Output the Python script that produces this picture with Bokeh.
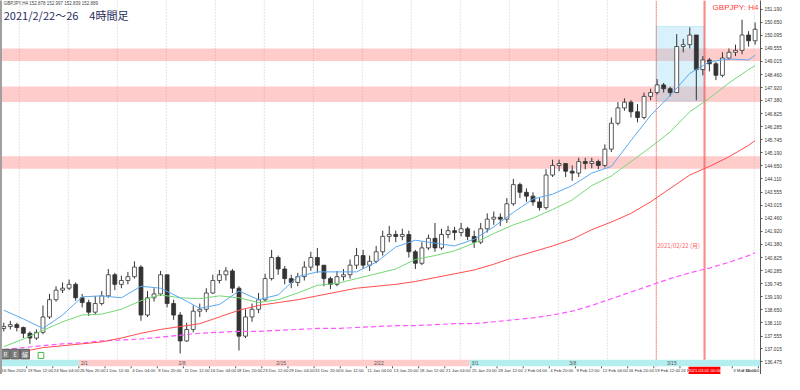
import numpy as np
from bokeh.plotting import figure
from bokeh.models import (Range1d, LinearAxis, FixedTicker, Label, Span,
                          BoxAnnotation, ColumnDataSource, PrintfTickFormatter)
from bokeh.core.properties import value
from bokeh.embed import file_html
from bokeh.resources import INLINE

# ---------------- data ----------------
symbol_line = "GBPJPY,H4  152.878 152.997 152.839 152.889"
title_text = "2021/2/22～26　4時間足"
tag_text = "GBPJPY: H4"
event_text = "2021/02/22 (月)"
cursor_time_text = "2021.03.01 00:00"

# each drawn candle summarises 4 consecutive H4 bars
first_open = 137.87
close = [137.95, 138.03, 137.91, 137.67, 137.47, 137.71, 138.35, 139.07, 139.47, 139.55,
         139.71, 139.15, 138.95, 138.55, 138.91, 139.23, 140.11, 139.71, 139.87, 140.03,
         140.43, 138.43, 139.15, 139.31, 140.11, 138.91, 138.43, 137.35, 137.83, 138.59,
         138.67, 139.35, 139.87, 140.11, 140.27, 139.55, 137.55, 138.35, 138.67, 139.07,
         139.95, 140.83, 140.35, 139.95, 139.79, 140.03, 140.43, 140.83, 140.51, 139.95,
         139.71, 140.03, 140.11, 140.51, 140.91, 140.51, 140.67, 141.07, 141.71, 141.79,
         141.71, 141.79, 141.07, 140.59, 141.23, 141.63, 141.23, 141.79, 141.95, 141.87,
         142.03, 141.71, 141.47, 142.03, 142.43, 142.51, 142.43, 143.07, 143.87, 143.55,
         143.39, 143.15, 142.91, 144.27, 144.67, 144.75, 144.43, 144.35, 144.83, 144.75,
         144.83, 144.67, 145.35, 146.43, 147.07, 147.31, 146.91, 146.67, 147.55, 147.71,
         148.03, 147.87, 147.71, 149.63, 149.71, 150.11, 148.67, 149.07, 148.91, 148.43,
         149.15, 149.39, 149.47, 150.11, 149.87, 150.35]
high = [138.11, 138.19, 138.11, 137.95, 137.75, 137.83, 138.83, 139.31, 139.63, 139.79,
        139.91, 139.79, 139.31, 139.07, 139.23, 139.43, 140.35, 140.19, 140.07, 140.23,
        140.67, 140.51, 139.43, 139.55, 140.27, 140.11, 139.07, 138.55, 138.11, 138.83,
        138.91, 139.55, 140.11, 140.31, 140.43, 140.35, 139.63, 138.67, 138.91, 139.35,
        140.15, 141.15, 140.91, 140.47, 140.11, 140.19, 140.67, 141.07, 141.23, 140.51,
        140.03, 140.27, 140.35, 140.75, 141.23, 141.15, 140.91, 141.31, 141.95, 142.15,
        141.95, 142.03, 141.95, 141.15, 141.47, 141.79, 142.27, 142.03, 142.15, 142.11,
        142.27, 142.11, 141.95, 142.27, 142.67, 142.75, 142.67, 143.31, 144.11, 143.95,
        143.71, 143.55, 143.31, 144.51, 144.91, 144.91, 144.75, 144.67, 144.99, 144.99,
        144.99, 144.91, 145.55, 146.67, 147.31, 147.47, 147.39, 147.23, 147.71, 147.87,
        148.27, 148.11, 147.95, 150.15, 149.95, 150.43, 150.11, 149.23, 149.15, 148.99,
        149.39, 149.55, 149.71, 150.75, 150.27, 150.63]
low = [137.75, 137.83, 137.75, 137.47, 137.23, 137.39, 137.63, 138.27, 138.99, 139.35,
       139.47, 139.03, 138.75, 138.39, 138.43, 138.83, 139.15, 139.47, 139.55, 139.71,
       139.95, 138.19, 138.35, 138.99, 139.23, 138.75, 138.23, 136.83, 137.31, 137.71,
       138.35, 138.55, 139.31, 139.75, 139.87, 139.35, 136.95, 137.47, 138.15, 138.51,
       138.99, 139.87, 140.11, 139.71, 139.55, 139.63, 139.87, 140.27, 140.19, 139.63,
       139.51, 139.63, 139.87, 139.95, 140.35, 140.35, 140.27, 140.59, 140.91, 141.47,
       141.47, 141.55, 140.83, 140.35, 140.51, 141.15, 141.07, 141.15, 141.63, 141.55,
       141.71, 141.55, 141.23, 141.39, 141.87, 142.19, 142.15, 142.27, 142.99, 143.31,
       143.15, 142.99, 142.79, 142.83, 144.19, 144.43, 144.19, 144.03, 144.19, 144.51,
       144.55, 144.51, 144.59, 145.23, 146.35, 146.95, 146.67, 146.47, 146.59, 147.39,
       147.63, 147.71, 147.55, 147.71, 149.39, 149.55, 147.39, 148.43, 148.59, 148.23,
       148.35, 149.07, 149.23, 149.31, 149.63, 149.71]

# moving averages, sampled at these candle numbers
ma_candle = [0, 3, 6, 9, 12, 15, 18, 21, 24, 27, 30, 33, 36, 39, 42, 45, 48, 51, 54, 57,
             60, 63, 66, 69, 72, 75, 78, 81, 84, 87, 90, 93, 96, 99, 102, 105, 108, 111, 114, 115]
ma_fast = [138.63, 138.27, 137.87, 138.43, 139.19, 139.23, 139.15, 139.63, 139.55, 139.15,
           138.71, 138.87, 139.43, 139.07, 139.27, 140.03, 140.23, 140.23, 140.23, 140.63,
           141.27, 141.55, 141.43, 141.31, 141.59, 142.11, 142.71, 143.27, 143.47, 143.83,
           144.35, 144.63, 145.71, 146.75, 147.59, 148.51, 148.99, 149.11, 149.07, 149.27]
ma_mid = [137.11, 137.43, 137.79, 138.15, 138.43, 138.47, 138.67, 139.03, 139.27, 139.15,
          139.11, 139.23, 139.15, 138.95, 139.07, 139.35, 139.67, 139.75, 139.95, 140.15,
          140.35, 140.75, 140.91, 141.11, 141.43, 141.83, 142.19, 142.47, 142.83, 143.23,
          143.83, 144.23, 144.83, 145.43, 146.07, 146.91, 147.47, 148.11, 148.67, 148.83]
ma_slow = [136.75, 136.91, 137.07, 137.15, 137.23, 137.31, 137.47, 137.67, 137.83, 137.95,
           138.07, 138.35, 138.63, 138.83, 138.95, 139.07, 139.23, 139.39, 139.55, 139.63,
           139.71, 139.83, 139.99, 140.15, 140.31, 140.55, 140.83, 141.07, 141.31, 141.59,
           141.99, 142.31, 142.67, 143.15, 143.71, 144.27, 144.63, 145.03, 145.51, 145.71]
ma_long = [136.99, 137.07, 137.15, 137.23, 137.27, 137.35, 137.39, 137.43, 137.51, 137.59,
           137.67, 137.71, 137.75, 137.75, 137.79, 137.83, 137.87, 137.87, 137.91, 137.95,
           137.99, 137.99, 138.03, 138.07, 138.07, 138.15, 138.23, 138.31, 138.43, 138.59,
           138.83, 139.11, 139.39, 139.67, 139.95, 140.19, 140.39, 140.63, 140.91, 141.03]

zone_low = [149.03, 147.32, 144.53]
zone_high = [149.55, 147.96, 145.05]
box_low, box_high = 147.36, 150.47
event_bars = [401.5, 431]     # H4 bar number: 2021/02/22 00:00, 2021/03/01 00:00

price_ticks = [151.190, 150.650, 150.095, 149.555, 149.015, 148.460, 147.920, 147.380,
               146.825, 146.285, 145.745, 145.190, 144.650, 144.110, 143.555, 143.015,
               142.460, 141.920, 141.380, 140.825, 140.285, 139.745, 139.190, 138.650,
               138.110, 137.555, 137.015, 136.475]
time_labels = ["16 Nov 2020", "19 Nov 12:00", "24 Nov 04:00", "26 Nov 20:00", "1 Dec 12:00",
               "4 Dec 04:00", "8 Dec 20:00", "11 Dec 12:00", "16 Dec 04:00", "18 Dec 20:00",
               "23 Dec 12:00", "29 Dec 04:00", "31 Dec 20:00", "6 Jan 12:00", "11 Jan 04:00",
               "13 Jan 20:00", "18 Jan 12:00", "21 Jan 04:00", "25 Jan 20:00", "28 Jan 12:00",
               "2 Feb 04:00", "4 Feb 20:00", "9 Feb 12:00", "12 Feb 04:00", "16 Feb 20:00",
               "19 Feb 12:00", "24 Feb 04:00", "", "3 Mar 12:00", "8 Mar 04:00"]
week_labels = ["2/1", "2/8", "2/15", "2/22", "3/1", "3/8", "3/15"]
button_labels = ["R", "E", "解"]

# ---------------- layout ----------------
BPC = 4                     # H4 bars per drawn candle
X0, X1 = 0, 465.3
Y0, Y1 = 136.29, 151.55     # chart area (band sits at its bottom)
LAB_H = 0.34                # strip below the chart for time labels
n = len(close)
xc = [BPC * i + BPC / 2 for i in range(n)]
opn = [first_open] + close[:-1]
up = [c >= o for o, c in zip(opn, close)]

p = figure(width=784, height=374, x_range=Range1d(X0, X1),
           y_range=Range1d(Y0 - LAB_H, Y1),
           output_backend="svg", toolbar_location=None,
           x_axis_location=None, y_axis_location=None,
           min_border_left=0, min_border_right=0, min_border_top=0, min_border_bottom=0)
p.outline_line_color = None
p.xgrid.grid_line_color = None
p.ygrid.grid_line_color = None
p.background_fill_color = "white"
p.border_fill_color = "white"

# left gray strip
left_ax = LinearAxis(ticker=FixedTicker(ticks=[]), axis_line_color="#a0a0a0",
                     axis_line_width=3, major_tick_line_color=None,
                     minor_tick_line_color=None, major_label_text_font_size="0px",
                     major_label_standoff=0)
p.add_layout(left_ax, "left")

# right price axis
ya = LinearAxis(ticker=FixedTicker(ticks=price_ticks),
                formatter=PrintfTickFormatter(format="%.3f"),
                major_label_text_font_size="4.8px",
                major_label_text_font="Liberation Sans",
                major_label_text_color="#333333",
                major_tick_out=2, major_tick_in=0,
                minor_tick_line_color=None,
                axis_line_color="#555555", major_tick_line_color="#555555",
                major_label_standoff=2)
p.add_layout(ya, "right")

# weekly dotted grid
for gx in np.arange(event_bars[0] % 30, X1, 30):
    p.add_layout(Span(location=float(gx), dimension="height", line_color="#c8c8c8",
                      line_dash="1 2", line_width=1, level="underlay"))

# white strip for time labels
p.quad(left=[X0], right=[X1], bottom=[Y0 - LAB_H], top=[Y0], fill_color="white",
       line_color=None)

# support / resistance zones
for lo, hi in zip(zone_low, zone_high):
    p.add_layout(BoxAnnotation(bottom=lo, top=hi, fill_color="#ff8080", fill_alpha=0.4,
                               line_color=None, level="underlay"))
# week box
p.add_layout(BoxAnnotation(left=event_bars[0], right=event_bars[1], bottom=box_low, top=box_high,
                           fill_color="#80d0f0", fill_alpha=0.3, line_color="#70bfe0",
                           line_width=1, level="underlay"))

# event lines
p.segment(x0=[event_bars[0]], y0=[Y0], x1=[event_bars[0]], y1=[Y1],
          line_color="#ff5050", line_dash="1 1", line_width=1)
p.segment(x0=[event_bars[1]], y0=[Y0], x1=[event_bars[1]], y1=[Y1],
          line_color="#ff6060", line_alpha=0.75, line_width=2)

# candles
src = ColumnDataSource(dict(x=xc, o=opn, c=close, h=high, l=low,
                            top=[max(a, b) for a, b in zip(opn, close)],
                            bot=[min(a, b) for a, b in zip(opn, close)],
                            fill=["#ffffff" if u else "#333333" for u in up]))
p.segment(x0="x", y0="l", x1="x", y1="h", source=src, line_color="#333333", line_width=1)
p.vbar(x="x", top="top", bottom="bot", width=BPC * 0.6, source=src,
       fill_color="fill", line_color="#333333", line_width=0.8)

# moving averages
max_ = [BPC * c + BPC / 2 for c in ma_candle]
p.line(max_, ma_long, line_color="#ff55ff", line_width=1.2, line_dash="5 3")
p.line(max_, ma_slow, line_color="#ff4d4d", line_width=1)
p.line(max_, ma_mid, line_color="#74d874", line_width=1)
p.line(max_, ma_fast, line_color="#5aa8f0", line_width=1)

# bottom month band with week labels
band_h = 0.28
wk_pos = [48 + 59.8 * k for k in range(len(week_labels))]
edges = [X0, wk_pos[0], wk_pos[4], X1]
p.quad(left=edges[:-1], right=edges[1:], bottom=Y0, top=Y0 + band_h,
       fill_color=["#b4eeee", "#ffcccc", "#b4eeee"], line_color=None)
p.text(x=wk_pos, y=[Y0 + band_h / 2] * len(wk_pos), text=week_labels,
       text_font_size="5px", text_baseline="middle", text_align="left",
       text_color="#555555", x_offset=2, text_font=value("Liberation Sans"))

# time labels under the band
t_pos = [16 * k for k in range(len(time_labels))]
t_lab = [(x, t) for x, t in zip(t_pos, time_labels) if t]
p.segment(x0=[x for x, _ in t_lab], y0=[Y0] * len(t_lab), x1=[x for x, _ in t_lab],
          y1=[Y0 - 0.08] * len(t_lab), line_color="#555555", line_width=1)
p.text(x=[min(x, X1 - 12) for x, _ in t_lab], y=[Y0 - LAB_H / 2] * len(t_lab),
       text=[t for _, t in t_lab], text_font_size="4.3px", text_baseline="middle",
       text_align="left", text_color="#333333", x_offset=1,
       text_font=value("Liberation Sans"))
# cursor time box (red)
cw = 19.5
p.quad(left=[event_bars[1] - cw / 2], right=[event_bars[1] + cw / 2],
       bottom=[Y0 - LAB_H + 0.02], top=[Y0 - 0.02], fill_color="#ff0000", line_color=None)
p.text(x=[event_bars[1]], y=[Y0 - LAB_H / 2], text=[cursor_time_text],
       text_font_size="4.3px", text_baseline="middle", text_align="center",
       text_color="white", text_font=value("Liberation Sans"))

# chart buttons (bottom left)
bw = 5.4
bl = [0.3 + 6 * k for k in range(3)]
p.quad(left=bl, right=[b + bw for b in bl], bottom=Y0 + band_h + 0.03, top=Y0 + band_h + 0.43,
       fill_color="#7f7f7f", line_color="#5a5a5a")
p.text(x=[b + bw / 2 for b in bl], y=[Y0 + band_h + 0.23] * 3, text=button_labels,
       text_font_size="6px", text_align="center", text_baseline="middle",
       text_color="#f0f0f0", text_font=value("Noto Sans CJK JP"))
p.quad(left=[23], right=[26.5], bottom=[Y0 + band_h + 0.05], top=[Y0 + band_h + 0.3],
       fill_color=None, line_color="#48b848")

# texts
p.add_layout(Label(x=2, y=Y1 - 0.02, text=symbol_line, text_font_size="4.5px",
                   text_font="Liberation Sans", text_color="#444444", text_baseline="top"))
p.add_layout(Label(x=2, y=Y1 - 0.6, text=title_text, text_font_size="11px",
                   text_font="Noto Sans CJK JP", text_color="#1f2a5c", text_baseline="middle"))
p.add_layout(Label(x=464, y=Y1 - 0.3, text=tag_text, text_font_size="8px",
                   text_font="Liberation Sans", text_color="#ff3b3b", text_align="right",
                   text_baseline="middle"))
p.add_layout(Label(x=event_bars[0], y=141.31, text=event_text, text_font_size="6px",
                   text_font="Noto Sans CJK JP", text_color="#ff6060", text_align="left",
                   text_baseline="middle", x_offset=1))

open("out.html", "w").write(file_html(p, INLINE))
